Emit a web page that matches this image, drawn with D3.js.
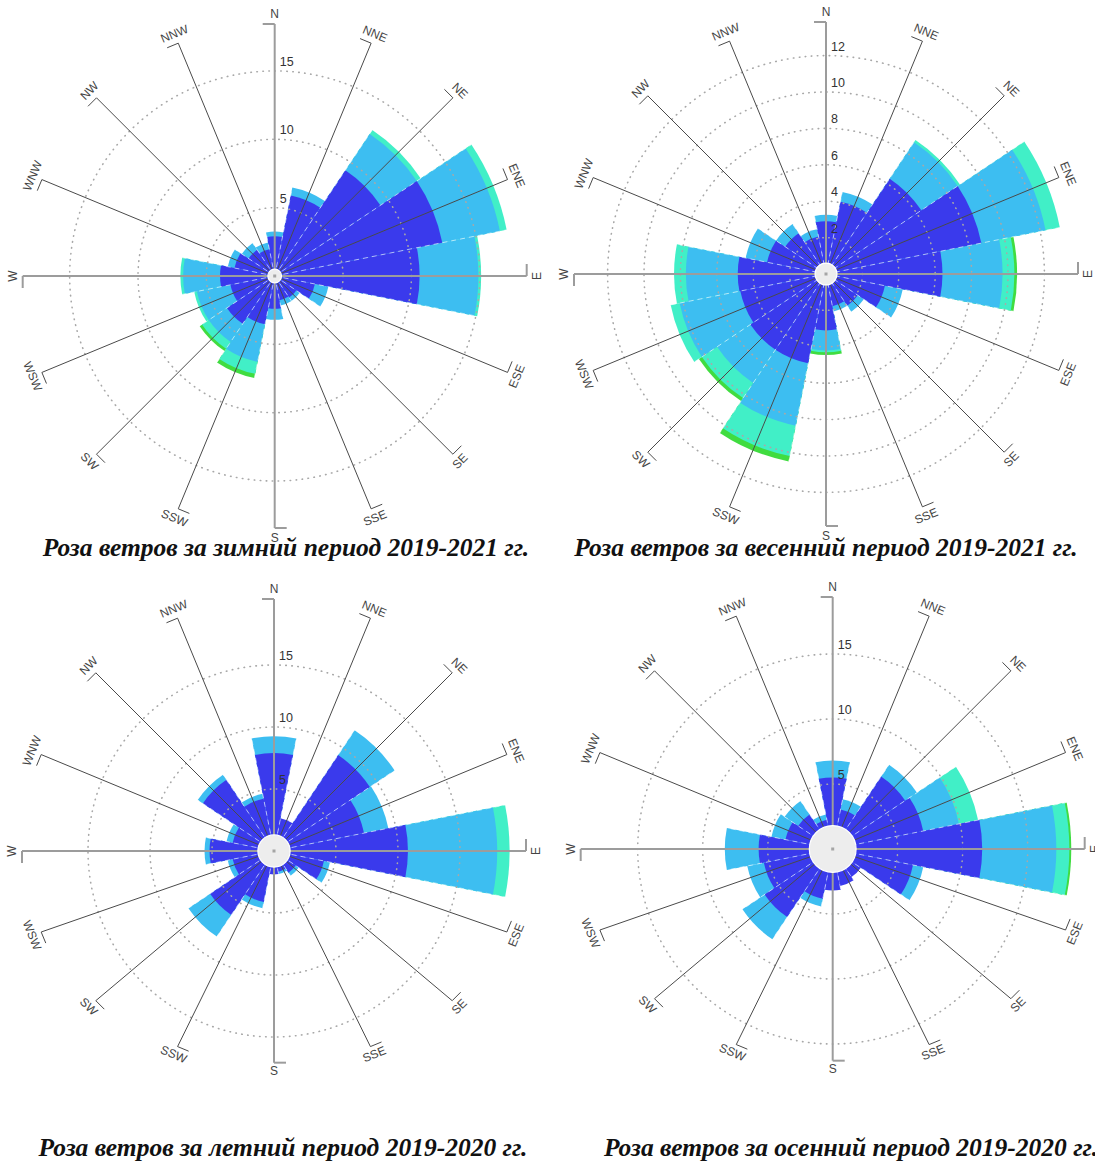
<!DOCTYPE html>
<html lang="ru">
<head>
<meta charset="utf-8">
<title>Розы ветров</title>
<script src="https://cdn.jsdelivr.net/npm/d3@7"></script>
<style>
  body { margin: 0; background: #fff; }
  svg { display: block; }
  .dir-label { font-family: 'Liberation Sans', Arial, sans-serif; font-size: 12px; fill: #444; }
  .ring-label { font-family: 'Liberation Sans', Arial, sans-serif; font-size: 12.5px; fill: #333; }
  .title { font-family: 'Liberation Serif', 'Times New Roman', serif; font-weight: bold; font-style: italic; font-size: 25.5px; fill: #111; }
</style>
</head>
<body>
<svg id="roses" width="1095" height="1171"></svg>
<script>
(function () {

// 16 румбов, по часовой от севера
const directions = ['N', 'NNE', 'NE', 'ENE', 'E', 'ESE', 'SE', 'SSE',
                    'S', 'SSW', 'SW', 'WSW', 'W', 'WNW', 'NW', 'NNW'];

// повторяемость (%) по градациям скорости
const winterC1 = [2.9, 6.0, 9.3, 12.5, 10.6, 3.0, 1.9, 1.8, 2.4, 3.6, 4.2, 3.3, 4.0, 3.0, 2.3, 2.0];
const winterC2 = [0.35, 0.6, 3.2, 4.3, 4.3, 1.0, 0.3, 0.4, 0.8, 2.8, 1.6, 2.5, 2.7, 0.5, 0.6, 0.5];
const winterC3 = [0, 0, 0.35, 0.5, 0.2, 0, 0, 0, 0, 0.9, 0.6, 0.2, 0.2, 0, 0, 0];
const winterC4 = [0, 0, 0, 0, 0, 0, 0, 0, 0, 0.3, 0.2, 0, 0, 0, 0, 0];

const springC1 = [2.9, 4.05, 6.3, 8.7, 6.4, 3.3, 2.1, 1.8, 3.1, 5.0, 5.0, 4.8, 4.85, 3.3, 2.7, 2.1];
const springC2 = [0.35, 0.55, 2.4, 3.6, 3.3, 1.0, 0.4, 0.3, 1.1, 3.5, 2.2, 3.4, 2.85, 1.2, 0.6, 0.4];
const springC3 = [0, 0, 0.15, 0.8, 0.65, 0, 0, 0, 0.1, 1.7, 1.0, 0.5, 0.65, 0, 0, 0];
const springC4 = [0, 0, 0, 0, 0.15, 0, 0, 0, 0.15, 0.3, 0.2, 0, 0, 0, 0, 0];

const summerC1 = [7.9, 2.7, 9.3, 7.4, 10.8, 4.1, 2.1, 1.7, 1.9, 4.2, 6.2, 3.4, 5.2, 3.4, 6.9, 4.3];
const summerC2 = [1.35, 0, 2.4, 2.0, 7.2, 0.5, 0.3, 0.2, 0, 0.5, 2.1, 0.4, 0.4, 0.5, 0.5, 0.4];
const summerC3 = [0, 0, 0, 0, 1.0, 0, 0, 0, 0, 0, 0, 0, 0, 0, 0, 0];
const summerC4 = [0, 0, 0, 0, 0, 0, 0, 0, 0, 0, 0, 0, 0, 0, 0, 0];

const autumnC1 = [5.5, 3.1, 6.7, 7.1, 11.5, 6.3, 2.6, 2.9, 3.2, 3.9, 6.3, 5.4, 5.7, 3.7, 3.2, 2.3];
const autumnC2 = [1.3, 0.8, 1.1, 2.8, 5.7, 0.8, 0, 0, 0, 0.6, 2.05, 1.3, 2.6, 1.1, 1.25, 0.4];
const autumnC3 = [0, 0, 0, 1.5, 1.0, 0, 0, 0, 0, 0, 0, 0, 0, 0, 0, 0];
const autumnC4 = [0, 0, 0, 0, 0.15, 0, 0, 0, 0, 0, 0, 0, 0, 0, 0, 0];

// штиль, %
const calms = [0.5, 0.6, 1.3, 1.8];

// подписи колец
const winterTicks = [5, 10, 15];
const springTicks = [2, 4, 6, 8, 10, 12];
const summerTicks = [5, 10, 15];
const autumnTicks = [5, 10, 15];

const titles = [
  'Роза ветров за зимний период 2019-2021 гг.',
  'Роза ветров за весенний период 2019-2021 гг.',
  'Роза ветров за летний период 2019-2020 гг.',
  'Роза ветров за осенний период 2019-2020 гг.'
];

const classKeys = ['c1', 'c2', 'c3', 'c4'];
const classColors = ['#3a3aec', '#3dbef1', '#41efc7', '#40dc40'];

const seasons = [
  {classes: [winterC1, winterC2, winterC3, winterC4], ticks: winterTicks, calm: calms[0], title: titles[0]},
  {classes: [springC1, springC2, springC3, springC4], ticks: springTicks, calm: calms[1], title: titles[1]},
  {classes: [summerC1, summerC2, summerC3, summerC4], ticks: summerTicks, calm: calms[2], title: titles[2]},
  {classes: [autumnC1, autumnC2, autumnC3, autumnC4], ticks: autumnTicks, calm: calms[3], title: titles[3]}
];

// расположение четырёх роз; lowK - нижние лучи у нижних роз короче (как на исходнике)
const spokeLen = 252;
const layout = [
  {cx: 274.7, cy: 276, unitPx: 13.67, lowK: 1, tx: 286, ty: 556},
  {cx: 826, cy: 274, unitPx: 18.2, lowK: 1, tx: 826, ty: 556},
  {cx: 274, cy: 851, unitPx: 12.4, lowK: 0.84, tx: 283, ty: 1156},
  {cx: 832.7, cy: 849, unitPx: 13.0, lowK: 0.84, tx: 851, ty: 1156}
];

const svg = d3.select('#roses');
svg.append('rect').attr('width', 1095).attr('height', 1171).attr('fill', '#fff');

const deg = Math.PI / 180;
const half = 11.25 * deg;

seasons.forEach(function(season, k) {
  drawRose(season, layout[k]);
});

function spokePoint(i, len, k) {
  const a = i * 22.5 * deg;
  const y = -len * Math.cos(a);
  return [len * Math.sin(a), y > 0 ? y * k : y];
}

function drawRose(season, cfg) {
  const r = d3.scaleLinear()
    .domain([0, spokeLen / cfg.unitPx])
    .range([0, spokeLen]);

  const rows = directions.map(function(d, i) {
    const row = {dir: d};
    classKeys.forEach(function(key, c) { row[key] = season.classes[c][i]; });
    return row;
  });
  const layers = d3.stack().keys(classKeys)(rows);
  const totals = rows.map(function(d, i) { return layers[layers.length - 1][i][1]; });

  const g = svg.append('g')
    .attr('transform', 'translate(' + cfg.cx + ',' + cfg.cy + ')');

  const arc = d3.arc().innerRadius(0);

  // лепестки: от внешней градации к внутренней
  layers.slice().reverse().forEach(function(layer) {
    const ci = classKeys.indexOf(layer.key);
    g.append('g').attr('class', 'petals-' + layer.key)
      .selectAll('path')
      .data(layer.filter(function(d) { return d[1] > d[0]; }))
      .enter().append('path')
        .attr('d', function(d) {
          const i = rows.indexOf(d.data);
          const a = i * 22.5 * deg;
          return arc({outerRadius: r(d[1]), startAngle: a - half, endAngle: a + half});
        })
        .attr('fill', classColors[ci]);
  });

  // белые штрихи на границах секторов
  g.append('g').selectAll('line')
    .data(directions)
    .enter().append('line')
      .attr('x1', 0).attr('y1', 0)
      .attr('x2', function(d, i) {
        const a = i * 22.5 * deg - half;
        const len = r(Math.max(totals[i], totals[(i + 15) % 16]));
        return len * Math.sin(a);
      })
      .attr('y2', function(d, i) {
        const a = i * 22.5 * deg - half;
        const len = r(Math.max(totals[i], totals[(i + 15) % 16]));
        return -len * Math.cos(a);
      })
      .attr('stroke', '#fff')
      .attr('stroke-opacity', 0.6)
      .attr('stroke-width', 1)
      .attr('stroke-dasharray', '5 4');

  // пунктирные кольца
  g.append('g').selectAll('circle')
    .data(season.ticks)
    .enter().append('circle')
      .attr('r', function(d) { return r(d); })
      .attr('fill', 'none')
      .attr('stroke', '#a8a8a8')
      .attr('stroke-width', 1.6)
      .attr('stroke-linecap', 'round')
      .attr('stroke-dasharray', '0.5 5.5');

  // лучи
  const spokes = g.append('g').selectAll('g')
    .data(directions)
    .enter().append('g');

  const lineColor = function(d, i) { return i % 4 === 0 ? '#9c9c9c' : '#4a4a4a'; };
  const lineWidth = function(d, i) { return i % 4 === 0 ? 2 : 1; };

  spokes.append('line')
    .attr('x1', 0).attr('y1', 0)
    .attr('x2', function(d, i) { return spokePoint(i, spokeLen, cfg.lowK)[0]; })
    .attr('y2', function(d, i) { return spokePoint(i, spokeLen, cfg.lowK)[1]; })
    .attr('stroke', lineColor)
    .attr('stroke-width', lineWidth);

  spokes.append('line')
    .attr('x1', function(d, i) { return spokePoint(i, spokeLen, cfg.lowK)[0]; })
    .attr('y1', function(d, i) { return spokePoint(i, spokeLen, cfg.lowK)[1]; })
    .attr('x2', function(d, i) { return spokePoint(i, spokeLen, cfg.lowK)[0] - 12 * Math.cos(i * 22.5 * deg); })
    .attr('y2', function(d, i) { return spokePoint(i, spokeLen, cfg.lowK)[1] - 12 * Math.sin(i * 22.5 * deg); })
    .attr('stroke', lineColor)
    .attr('stroke-width', lineWidth);

  spokes.append('text')
    .attr('class', 'dir-label')
    .attr('text-anchor', 'middle')
    .attr('dominant-baseline', 'central')
    .attr('transform', function(d, i) {
      const ang = i * 22.5;
      const p = spokePoint(i, spokeLen + 10, cfg.lowK);
      const rot = (ang >= 90 && ang < 270) ? ang - 180 : ang;
      return 'translate(' + p[0] + ',' + p[1] + ') rotate(' + rot + ')';
    })
    .text(function(d) { return d; });

  // штиль
  g.append('circle')
    .attr('r', r(season.calm))
    .attr('fill', '#ededed')
    .attr('stroke', '#fff')
    .attr('stroke-width', 1.2);

  g.append('rect')
    .attr('x', -1.5).attr('y', -1.5)
    .attr('width', 3).attr('height', 3)
    .attr('fill', '#a5a5a5');

  // подписи колец
  g.append('g').selectAll('text')
    .data(season.ticks)
    .enter().append('text')
      .attr('class', 'ring-label')
      .attr('x', 5)
      .attr('y', function(d) { return -r(d) - 5; })
      .text(function(d) { return d; });

  svg.append('text')
    .attr('class', 'title')
    .attr('text-anchor', 'middle')
    .attr('x', cfg.tx)
    .attr('y', cfg.ty)
    .text(season.title);
}

})();
</script>
</body>
</html>
